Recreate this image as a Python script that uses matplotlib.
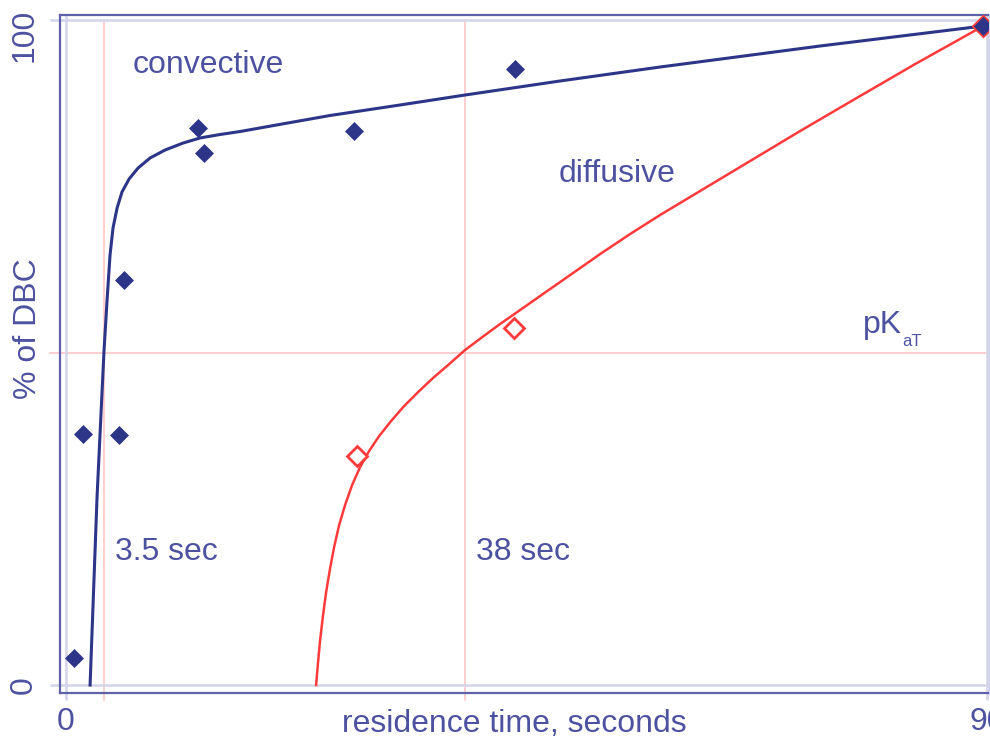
#!/usr/bin/env python3

import matplotlib
matplotlib.use('Agg')
import matplotlib.pyplot as plt
import matplotlib.transforms as mtransforms

plt.rcParams['font.family'] = ['Liberation Sans', 'DejaVu Sans']

# ======================================================================
# Values (time in s, % of DBC).
# ======================================================================

conv_t = [0.78, 1.66, 5.18, 5.67, 12.9, 13.49, 28.15, 43.89, 89.64]
conv_pct = [4.1, 37.7, 37.6, 60.9, 83.8, 80.0, 83.3, 92.6, 99.1]

diff_t = [28.45, 43.79, 89.64]
diff_pct = [34.5, 53.7, 99.1]

conv_fit_t = [2.35, 3.03, 3.71, 4.01, 4.30, 4.59, 4.99, 5.47, 6.16,
              7.04, 8.21, 9.68, 11.44, 13.10, 15.05, 17.01, 21.41,
              25.81, 32.65, 39.0, 48.29, 58.06, 73.70, 89.64]
conv_fit_pct = [0.0, 28.27, 50.23, 57.89, 64.66, 68.72, 71.73, 74.14, 76.09,
                77.74, 79.25, 80.45, 81.50, 82.26, 82.78, 83.23, 84.44,
                85.64, 87.22, 88.72, 90.83, 92.93, 96.09, 99.10]

diff_fit_t = [24.44, 24.63, 24.83, 25.12, 25.42, 25.81, 26.20, 26.69,
              27.27, 27.96, 28.74, 29.62, 30.60, 31.77, 33.04, 34.41,
              35.87, 37.34, 39.00, 40.76, 42.42, 44.87, 47.31, 49.76,
              52.20, 55.13, 58.06, 62.46, 66.86, 71.75, 76.93, 82.99, 89.64]
diff_fit_pct = [0.0, 3.46, 6.77, 10.53, 13.98, 17.59, 20.75, 24.06,
                27.07, 30.08, 32.78, 35.19, 37.44, 39.70, 41.95, 44.06,
                46.17, 48.12, 50.38, 52.41, 54.29, 56.92, 59.55, 62.18,
                64.81, 67.82, 70.68, 74.74, 78.80, 83.31, 87.97, 93.38, 99.10]

half_t = [3.7, 39.0]
half_labels = ['3.5 sec', '38 sec']
half_pct = 50

x_ticks = [0, 90]
y_ticks = [0, 100]

# ======================================================================
# Colours.
# ======================================================================

navy = '#2c3587'
text_c = '#4d52a0'
frame_c = '#5e62aa'
light_c = '#d3d5ea'
red = '#ff3a3a'
pink = '#ffc6c6'

W, H = 990, 736
fig = plt.figure(figsize=(W / 100, H / 100), dpi=100)
ax = fig.add_axes([60 / W, 1 - 693 / H, 928 / W, 678 / H])

ax.set_xlim(-0.59, 90.1)
ax.set_ylim(-1.2, 100.75)

# reference lines (extend a little outside the frame)
for t in half_t:
    ax.plot([t, t], [-2.3, 100], color=pink, lw=1.2, clip_on=False, zorder=1)
ax.plot([-1.6, 90.1], [half_pct, half_pct], color=pink, lw=1.2,
        clip_on=False, zorder=1)

# fitted curves
ax.plot(conv_fit_t, conv_fit_pct, color=navy, lw=2.2, zorder=3,
        solid_joinstyle='round')
ax.plot(diff_fit_t, diff_fit_pct, color=red, lw=1.8, zorder=3,
        solid_joinstyle='round')

# measured points
ax.plot(diff_t, diff_pct, 'D', ms=10, mfc='white', mec=red, mew=2.0,
        ls='none', zorder=4)
ax.plot(conv_t, conv_pct, 'D', ms=8.7, mfc=navy, mec=navy, mew=0.5,
        ls='none', zorder=5)

# frame
for side in ['left', 'bottom', 'top']:
    ax.spines[side].set_color(frame_c)
    ax.spines[side].set_linewidth(1.6)
ax.spines['right'].set_color(light_c)
ax.spines['right'].set_linewidth(2.2)

ax.set_xticks(x_ticks)
ax.set_yticks(y_ticks)
ax.grid(True, color=light_c, lw=1.8, zorder=0)
ax.tick_params(axis='x', direction='out', length=5, width=1.8,
               color=light_c, labelcolor=text_c, labelsize=23, pad=5)
ax.tick_params(axis='y', direction='out', length=7, width=1.8,
               color=light_c, labelcolor=text_c, labelsize=23, pad=8)
for lab in ax.get_yticklabels():
    lab.set_rotation(90)
    lab.set_va('center')
ylabs = ax.get_yticklabels()
ylabs[1].set_transform(ylabs[1].get_transform()
                       + mtransforms.ScaledTranslation(0, -15 / 100,
                                                       fig.dpi_scale_trans))

# annotations
ax.text(6.55, 92.0, 'convective', color=text_c, fontsize=23,
        va='baseline', ha='left')
ax.text(48.1, 75.6, 'diffusive', color=text_c, fontsize=23,
        va='baseline', ha='left')
pk = ax.text(77.9, 52.9, 'pK', color=text_c, fontsize=23,
             va='baseline', ha='left')
ax.annotate('aT', xy=(1, 0), xycoords=pk, xytext=(0, -4.5),
            textcoords='offset points', color=text_c, fontsize=12,
            va='baseline', ha='left')
for t, lab in zip(half_t, half_labels):
    ax.text(t + 1.1, 18.8, lab, color=text_c, fontsize=23,
            va='baseline', ha='left')

fig.text(514 / W, 1 - 732 / H, 'residence time, seconds', color=text_c,
         fontsize=23, ha='center', va='baseline')
fig.text(28 / W, 1 - 329 / H, '% of DBC', color=text_c, fontsize=23,
         ha='center', va='center', rotation=90)

fig.savefig('out.png', dpi=100)
plt.close()
